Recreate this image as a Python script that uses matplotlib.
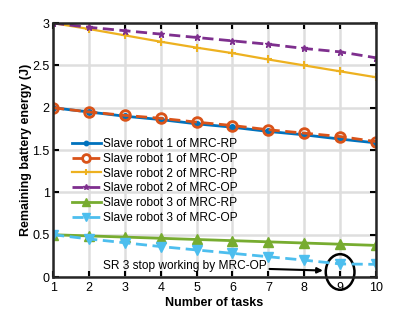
import matplotlib
matplotlib.use("Agg")
import matplotlib.pyplot as plt
from matplotlib.patches import Ellipse

plt.rcParams['font.family'] = ['Liberation Sans', 'DejaVu Sans']

tasks = [1, 2, 3, 4, 5, 6, 7, 8, 9, 10]
sr1_rp = [2.00, 1.95, 1.90, 1.86, 1.81, 1.77, 1.72, 1.68, 1.63, 1.585]
sr1_op = [2.00, 1.95, 1.91, 1.875, 1.83, 1.79, 1.74, 1.70, 1.66, 1.60]
sr2_rp = [3.00, 2.93, 2.855, 2.78, 2.71, 2.645, 2.57, 2.50, 2.43, 2.36]
sr2_op = [3.00, 2.95, 2.91, 2.87, 2.83, 2.79, 2.75, 2.70, 2.66, 2.59]
sr3_rp = [0.50, 0.486, 0.472, 0.458, 0.444, 0.43, 0.416, 0.402, 0.388, 0.374]
sr3_op = [0.50, 0.45, 0.405, 0.36, 0.32, 0.28, 0.24, 0.20, 0.155, 0.15]

labels = ["Slave robot 1 of MRC-RP", "Slave robot 1 of MRC-OP",
          "Slave robot 2 of MRC-RP", "Slave robot 2 of MRC-OP",
          "Slave robot 3 of MRC-RP", "Slave robot 3 of MRC-OP"]

fig = plt.figure(figsize=(4.15, 3.12), dpi=100)
ax = fig.add_axes([0.128, 0.112, 0.778, 0.814])

c_blue = '#0072BD'
c_orange = '#D95319'
c_yellow = '#EDB120'
c_purple = '#7E2F8E'
c_green = '#77AC30'
c_cyan = '#4DBEEE'

ax.plot(tasks, sr1_rp, '-', color=c_blue, lw=2, marker='o', ms=4, label=labels[0])
ax.plot(tasks, sr1_op, '--', color=c_orange, lw=2, marker='o', ms=7, mfc='none', mew=2, label=labels[1], dashes=(4, 2))
ax.plot(tasks, sr2_rp, '-', color=c_yellow, lw=1.6, marker='+', ms=6, mew=1.5, label=labels[2])
ax.plot(tasks, sr2_op, '--', color=c_purple, lw=2, marker='*', ms=5, label=labels[3], dashes=(4, 2))
ax.plot(tasks, sr3_rp, '-', color=c_green, lw=2, marker='^', ms=7, label=labels[4])
ax.plot(tasks, sr3_op, '--', color=c_cyan, lw=2, marker='v', ms=7, label=labels[5], dashes=(4, 2))

ax.set_xlim(1, 10)
ax.set_ylim(0, 3)
ax.set_xticks(tasks)
ax.set_yticks([0, 0.5, 1, 1.5, 2, 2.5, 3])
ax.set_yticklabels(['0', '0.5', '1', '1.5', '2', '2.5', '3'])
ax.grid(True, color='#DEDEDE', lw=1.8)
ax.set_axisbelow(True)
ax.tick_params(direction='in', top=True, right=True, labelsize=9, width=1.5, length=4, colors='black')
ax.tick_params(axis='y', pad=2.5)
for s in ax.spines.values():
    s.set_linewidth(1.8)
    s.set_color('#262626')

ax.set_xlabel('Number of tasks', fontsize=9, fontweight='bold', labelpad=2)
ax.set_ylabel('Remaining battery energy (J)', fontsize=9, fontweight='bold', labelpad=0)

leg = ax.legend(loc='upper left', bbox_to_anchor=(0.058, 0.548), frameon=False, fontsize=8.6,
                handlelength=2.4, labelspacing=0.24, borderpad=0, borderaxespad=0,
                handletextpad=0.2, markerscale=0.8)

ax.annotate('SR 3 stop working by MRC-OP', xy=(8.52, 0.077), xytext=(2.39, 0.125),
            fontsize=8.6, va='center', ha='left',
            arrowprops=dict(arrowstyle='-|>', color='black', lw=1.5, mutation_scale=8,
                            shrinkA=0, shrinkB=0))
ell = Ellipse((9.0, 0.06), 0.8, 0.42, fill=False, edgecolor='black', lw=1.8, clip_on=False)
ax.add_patch(ell)

fig.savefig('out.png', dpi=100)
